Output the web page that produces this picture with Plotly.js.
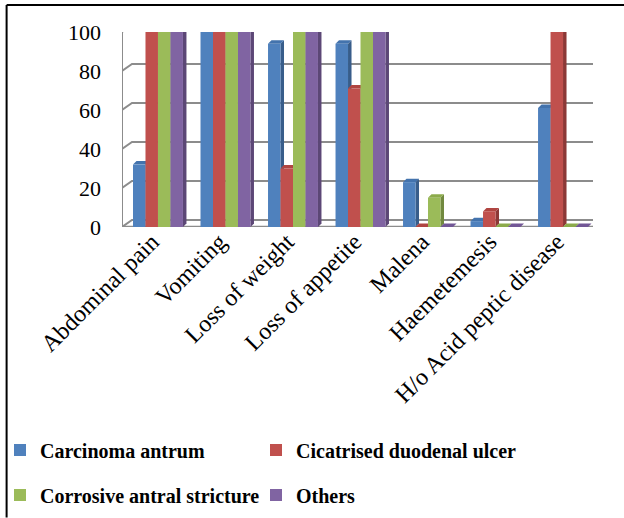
<!DOCTYPE html>
<html>
<head>
<meta charset="utf-8">
<script src="https://cdn.plot.ly/plotly-3.0.1.min.js"></script>
</head>
<body style="margin:0;padding:0;background:#fff">
<div id="chart" style="width:624px;height:518px"></div>
<script>
// ---- data ----
const categories = ['Abdominal pain', 'Vomiting', 'Loss of weight', 'Loss of appetite', 'Malena', 'Haemetemesis', 'H/o Acid peptic disease'];
const seriesNames = ['Carcinoma antrum', 'Cicatrised duodenal ulcer', 'Corrosive antral stricture', 'Others'];
const carcinomaAntrum = [32, 100, 94, 94, 23, 3, 61];
const cicatrisedDuodenalUlcer = [100, 100, 30, 71, 0, 8, 100];
const corrosiveAntralStricture = [100, 100, 100, 100, 15, 0, 0];
const others = [100, 100, 100, 100, 0, 0, 0];
const yTicks = [0, 20, 40, 60, 80, 100];

// ---- styling ----
const seriesValues = [carcinomaAntrum, cicatrisedDuodenalUlcer, corrosiveAntralStricture, others];
const front = ['#4F81BD', '#C0504D', '#9BBB59', '#8064A2'];
const topC = ['#4373AD', '#B04541', '#8CAB4B', '#725796'];
const side = ['#385D8A', '#8C3836', '#71893F', '#5C4776'];
const legendOf = ['legend', 'legend2', 'legend3', 'legend4'];

const X0 = -0.533, X1 = 6.444;
const pxPerCat = 471 / (X1 - X0);
const pxPerUnit = 195 / 100;
const bargap = 0.26;
const nS = 4;
const bw = (1 - bargap) / nS;
const dX = 3.5 / pxPerCat, dY = 3.5 / pxPerUnit;      // bar depth
const wX = 10 / pxPerCat, wY = 7 / pxPerUnit;         // wall depth

const traces = seriesValues.map((vals, i) => ({
  type: 'bar',
  name: seriesNames[i],
  x: categories.map((c, k) => k),
  y: vals,
  marker: {color: front[i], line: {width: 0}},
  legend: legendOf[i],
  hoverinfo: 'skip'
}));

const shapes = [];
yTicks.forEach(v => {
  shapes.push({
    type: 'path', xref: 'x', yref: 'y', layer: 'below',
    path: `M${X0},${v} L${X0 + wX},${v + wY} L${X1 + wX},${v + wY}`,
    line: {color: '#8C8C8C', width: 2}
  });
});
shapes.push({type: 'line', xref: 'x', yref: 'y', layer: 'below', x0: X0, x1: X0, y0: 0, y1: 100,
  line: {color: '#8C8C8C', width: 2}});
shapes.push({type: 'path', xref: 'x', yref: 'y', layer: 'below',
  path: `M${X0},0 L${X1},0 L${X1 + wX},${wY}`,
  line: {color: '#8C8C8C', width: 2.5}});

seriesValues.forEach((vals, i) => {
  vals.forEach((v, k) => {
    const xl = k - (1 - bargap) / 2 + bw * i;
    const xr = xl + bw;
    shapes.push({type: 'path', xref: 'x', yref: 'y', layer: 'between',
      path: `M${xr},0 L${xr},${v} L${xr + dX},${v + dY} L${xr + dX},${dY} Z`,
      fillcolor: side[i], line: {width: 0}});
    shapes.push({type: 'path', xref: 'x', yref: 'y', layer: 'between',
      path: `M${xl},${v} L${xr},${v} L${xr + dX},${v + dY} L${xl + dX},${v + dY} Z`,
      fillcolor: topC[i], line: {width: 0}});
  });
});

shapes.push({type: 'line', xref: 'paper', yref: 'paper', x0: -0.245, x1: 1.1, y0: 1.138, y1: 1.138,
  line: {color: '#000', width: 2}});
shapes.push({type: 'line', xref: 'paper', yref: 'paper', x0: -0.245, x1: -0.245, y0: 1.138, y1: -1.49,
  line: {color: '#000', width: 2}});

const FAM = 'Times New Roman';
function leg(xpx, ypx) {
  return {
    orientation: 'h', xref: 'container', yref: 'container',
    x: xpx / 624, y: (518 - ypx) / 518, xanchor: 'left', yanchor: 'middle',
    font: {family: FAM, size: 20, color: '#000', weight: 'bold'},
    bgcolor: 'rgba(0,0,0,0)', borderwidth: 0
  };
}
const layout = {
  width: 624, height: 518,
  margin: {l: 122, r: 31, t: 32, b: 291},
  paper_bgcolor: '#fff', plot_bgcolor: 'rgba(0,0,0,0)',
  barmode: 'group', bargap: bargap, bargroupgap: 0,
  showlegend: true,
  xaxis: {
    range: [X0, X1], tickvals: categories.map((c, k) => k), ticktext: categories,
    tickangle: -45, tickfont: {family: FAM, size: 24, color: '#000'},
    showgrid: false, zeroline: false, showline: false, ticks: '',
    ticklabelstandoff: -5, ticklabelshift: -6
  },
  yaxis: {
    range: [0, 100], tickvals: yTicks, tickfont: {family: FAM, size: 22, color: '#000'},
    showgrid: false, zeroline: false, showline: false, ticks: '', ticklabelstandoff: 20
  },
  legend: leg(0, 450),
  legend2: leg(256, 450),
  legend3: leg(0, 495),
  legend4: leg(256, 495),
  shapes: shapes
};

Plotly.newPlot('chart', traces, layout, {displayModeBar: false});
</script>
</body>
</html>
